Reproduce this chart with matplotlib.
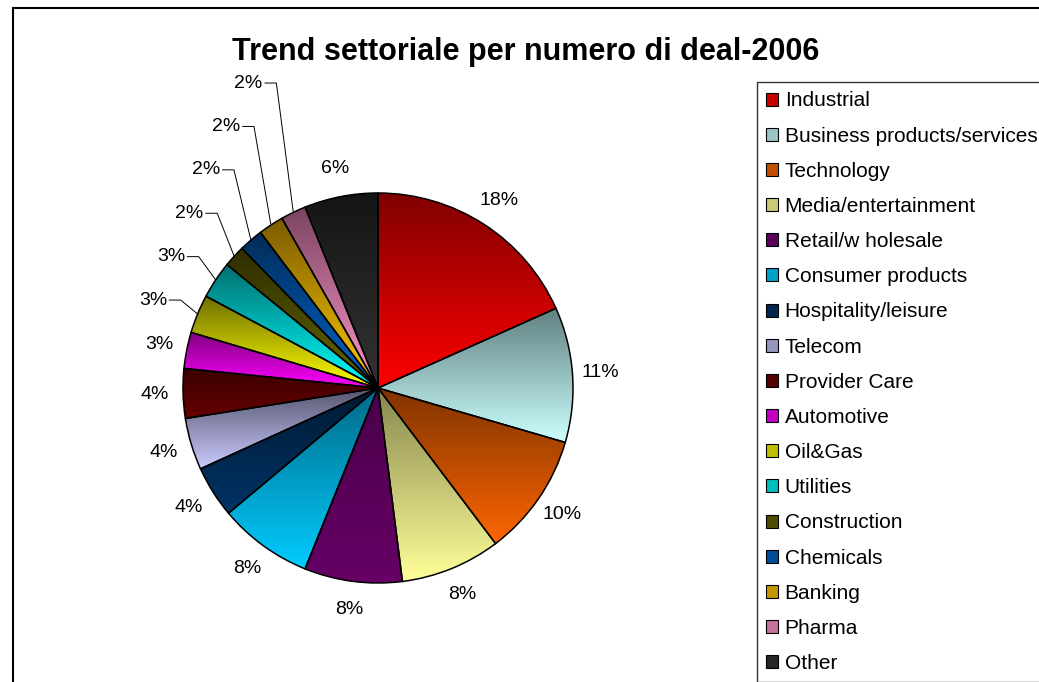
import numpy as np
import matplotlib.pyplot as plt
from matplotlib.colors import LinearSegmentedColormap, to_rgb
from matplotlib.patches import Rectangle

plt.rcParams['font.family'] = ['Liberation Sans', 'DejaVu Sans']

sectors = ['Industrial', 'Business products/services', 'Technology',
           'Media/entertainment', 'Retail/w holesale', 'Consumer products',
           'Hospitality/leisure', 'Telecom', 'Provider Care', 'Automotive',
           'Oil&Gas', 'Utilities', 'Construction', 'Chemicals', 'Banking',
           'Pharma', 'Other']
shares = [18.3, 11.2, 10.2, 8.3, 8.1, 7.8, 4.3, 4.3, 4.1, 3.0,
          3.2, 3.1, 1.8, 2.0, 2.1, 2.1, 6.1]

# gradient ends for every slice: dark at the top, bright at the bottom
top_colors = ['#800000', '#5f7f7f', '#7f3300', '#86864f', '#4a004a', '#006a88',
              '#001a33', '#55556f', '#3a0000', '#7f007f', '#6f6f00', '#006f6f',
              '#2e2e00', '#002c58', '#7a5a00', '#7a4460', '#151515']
bottom_colors = ['#ff0000', '#ccffff', '#ff6600', '#ffff99', '#660066', '#00ccff',
                 '#003366', '#ccccff', '#660000', '#ff00ff', '#ffff00', '#00ffff',
                 '#666600', '#0066cc', '#ffcc00', '#ff99cc', '#333333']

W, H = 1039, 682
R_PX = 195          # pie radius in pixels
CX, CY = 378, 388   # pie centre in pixels (from the top)
HALF = 300

fig = plt.figure(figsize=(W / 100, H / 100), dpi=100)
ax = fig.add_axes([(CX - HALF) / W, (H - CY - HALF) / H, 2 * HALF / W, 2 * HALF / H])

wedges, _ = ax.pie(shares, startangle=90, counterclock=False, radius=1,
                   wedgeprops=dict(edgecolor='black', linewidth=1.1, facecolor='none'))

grad = np.linspace(0, 1, 256).reshape(-1, 1)
for w, top, bot in zip(wedges, top_colors, bottom_colors):
    cmap = LinearSegmentedColormap.from_list('shade', [bot, top])
    bb = w.get_path().get_extents()
    im = ax.imshow(grad, cmap=cmap, extent=(bb.x0, bb.x1, bb.y0, bb.y1),
                   origin='lower', aspect='auto', interpolation='bilinear', zorder=1)
    im.set_clip_path(w)
    w.set_zorder(2)

lim = HALF / R_PX
ax.set_xlim(-lim, lim)
ax.set_ylim(-lim, lim)
ax.axis('off')

# percentage labels; the narrow slices on the upper left get leader lines
total = sum(shares)
leader = list(range(10, 16))
step = 0.2226
for i, (w, v) in enumerate(zip(wedges, shares)):
    txt = f'{round(v / total * 100):.0f}%'
    mid = np.deg2rad((w.theta1 + w.theta2) / 2)
    px, py = np.cos(mid), np.sin(mid)
    if i in leader:
        k = leader.index(i)
        ly = 0.451 + k * step
        lx = px - 0.145
        ax.text(lx - 0.012, ly, txt, ha='right', va='center', fontsize=14, zorder=3)
        ax.plot([lx, lx + 0.058, px], [ly, ly, py], color='black', lw=0.7,
                zorder=3, clip_on=False)
    else:
        ax.text(1.145 * px, 1.145 * py, txt, ha='center', va='center',
                fontsize=14, zorder=3)

fig.text(525.5 / W, 1 - 52 / H, 'Trend settoriale per numero di deal-2006',
         ha='center', va='center', fontsize=22, fontweight='bold')

# legend swatches use a mix of the two gradient ends
handles = []
for top, bot in zip(top_colors, bottom_colors):
    c = 0.45 * np.array(to_rgb(top)) + 0.55 * np.array(to_rgb(bot))
    handles.append(Rectangle((0, 0), 1, 1, facecolor=c, edgecolor='black', lw=0.8))
leg = fig.legend(handles, sectors, loc='upper left', bbox_to_anchor=(757 / W, 1 - 82 / H),
                 borderaxespad=0, fontsize=15, labelspacing=0.776, handlelength=0.58,
                 handleheight=0.58, handletextpad=0.3, borderpad=0.45,
                 fancybox=False, frameon=True)
leg.get_frame().set_edgecolor('black')
leg.get_frame().set_linewidth(1.0)

# outer chart border
fig.add_artist(Rectangle((13 / W, -0.5), 1.0, 1.5 - 8 / H, transform=fig.transFigure,
                         fill=False, edgecolor='black', lw=1.5))

fig.savefig('out.png', dpi=100, facecolor='white')
